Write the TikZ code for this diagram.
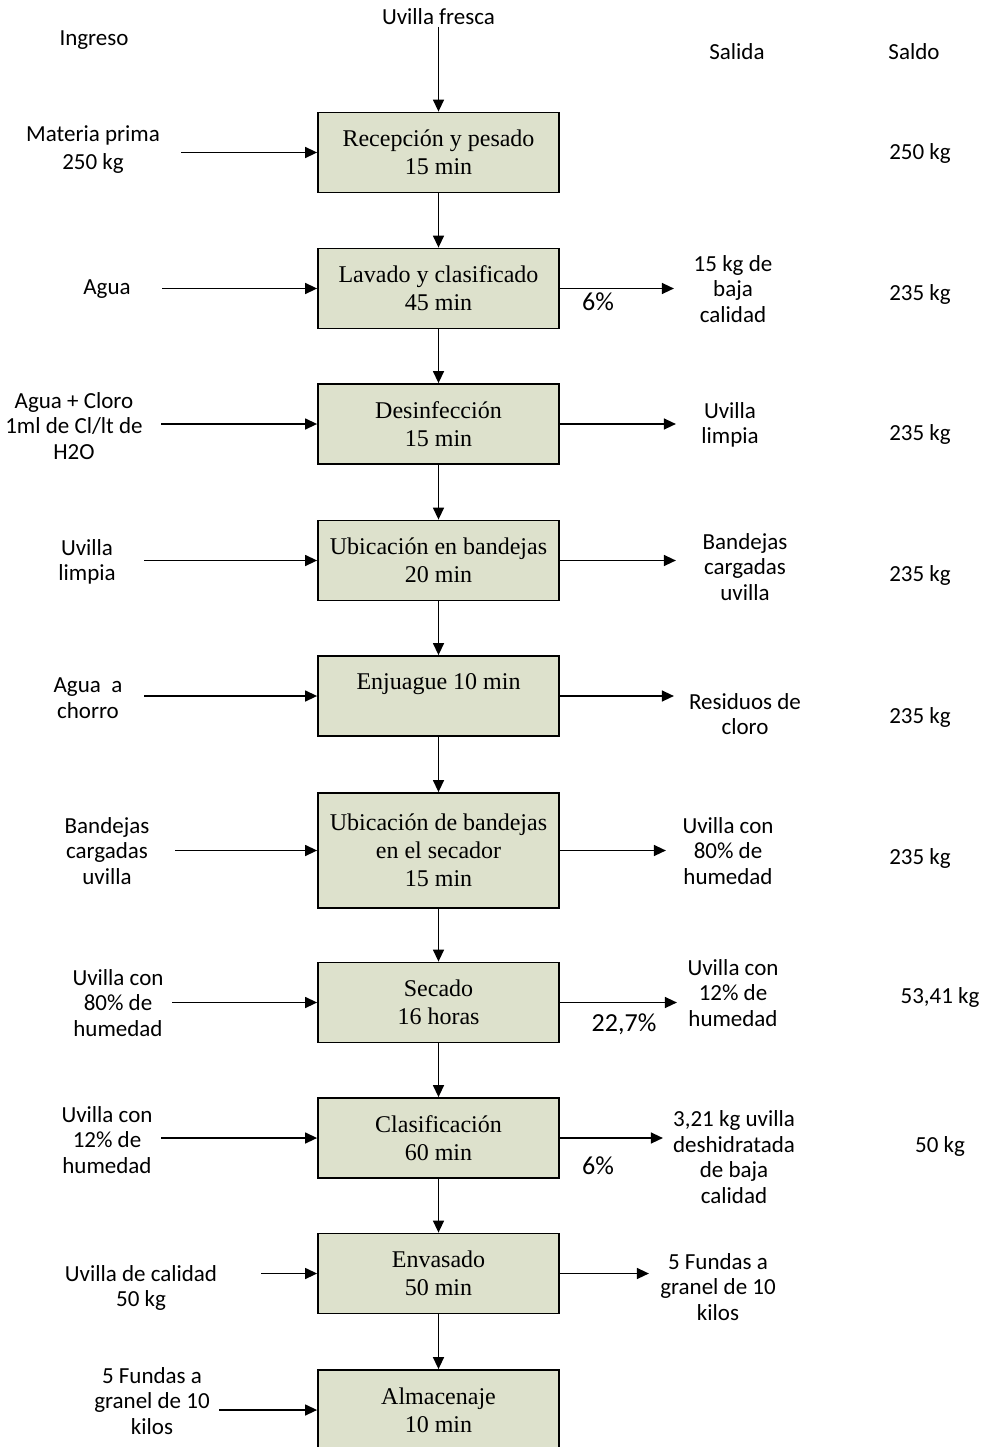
\documentclass[tikz,border=0pt]{standalone}
\usepackage{fontspec}
\setmainfont{Liberation Serif}
\newfontfamily\labfont{Carlito}
\usetikzlibrary{arrows.meta,calc}
\definecolor{boxfill}{HTML}{DDE1CC}
\begin{document}
\begin{tikzpicture}[x=1pt,y=-1pt,
  box/.style={draw=black, line width=1.8pt, fill=boxfill, minimum width=241pt,
    minimum height=80pt, inner sep=2pt, align=center,
    font=\fontsize{24}{28}\selectfont},
  lab/.style={font=\labfont\fontsize{23}{25.5}\selectfont, align=center, inner sep=0pt},
  pct/.style={font=\labfont\fontsize{26}{28}\selectfont, inner sep=0pt},
  arr/.style={line width=1.4pt, -{Triangle[length=12pt,width=11pt]}}]
\clip (0,0) rectangle (981,1447);
\fill[white] (0,0) rectangle (981,1447);

% boxes
\node[box] (b1) at (438.5,152.5) {Recepción y pesado\\15 min};
\node[box] (b2) at (438.5,288.5) {Lavado y clasificado\\45 min};
\node[box] (b3) at (438.5,424) {Desinfección\\15 min};
\node[box] (b4) at (438.5,560.5) {Ubicación en bandejas\\20 min};
\node[box] (b5) at (438.5,696) {Enjuague 10 min\\\mbox{}};
\node[box, minimum height=115pt] (b6) at (438.5,850.5) {Ubicación de bandejas\\en el secador\\15 min};
\node[box] (b7) at (438.5,1002.5) {Secado\\16 horas};
\node[box] (b8) at (438.5,1138) {Clasificación\\60 min};
\node[box] (b9) at (438.5,1273.5) {Envasado\\50 min};
\node[box] (b10) at (438.5,1410) {Almacenaje\\10 min};

% headers
\node[lab] (hIng) at (94,40) {Ingreso};
\node[lab] (hUf) at (438.5,17) {Uvilla fresca};
\node[lab] (hSal) at (737,52) {Salida};
\node[lab] (hSaldo) at (914,52) {Saldo};

% vertical flow
\coordinate (top) at (438.5,27);
\draw[arr] (top) -- (b1.north);
\foreach \a/\b in {b1/b2,b2/b3,b3/b4,b4/b5,b5/b6,b6/b7,b7/b8,b8/b9,b9/b10}
  \draw[arr] (\a.south) -- (\b.north);

% input arrows
\foreach \b/\d in {b1/136,b2/155,b3/156,b4/173,b5/173,b6/142,b7/145,b8/156,b9/56,b10/98}
  \draw[arr] ($(\b.west)+(-\d,0)$) coordinate (in\b) -- (\b.west);

% output arrows
\foreach \b/\d in {b2/114,b3/116,b4/116,b5/114,b6/106,b7/117,b8/103,b9/89}
  \draw[arr] (\b.east) -- ($(\b.east)+(\d,0)$) coordinate (out\b);

% input labels
\node[lab] (l1) at (93,150) {Materia prima\\[2.5pt]250 kg};
\node[lab] (l2) at (107,289) {Agua};
\node[lab] (l3) at (74,426) {Agua + Cloro\\1ml de Cl/lt de\\H2O};
\node[lab] (l4) at (87,562) {Uvilla\\limpia};
\node[lab] (l5) at (88,698) {Agua\ \ a\\chorro};
\node[lab] (l6) at (107,851) {Bandejas\\cargadas\\uvilla};
\node[lab] (l7) at (118,1003) {Uvilla con\\80\% de\\humedad};
\node[lab] (l8) at (107,1140) {Uvilla con\\12\% de\\humedad};
\node[lab] (l9) at (141,1288) {Uvilla de calidad\\50 kg};
\node[lab] (l10) at (152,1401) {5 Fundas a\\granel de 10\\kilos};

% output labels
\node[lab] (o2) at (733,289) {15 kg de\\baja\\calidad};
\node[lab] (o3) at (730,425) {Uvilla\\limpia};
\node[lab] (o4) at (745,567) {Bandejas\\cargadas\\uvilla};
\node[lab] (o5) at (745,714) {Residuos de\\cloro};
\node[lab] (o6) at (728,851) {Uvilla con\\80\% de\\humedad};
\node[lab] (o7) at (733,993) {Uvilla con\\12\% de\\humedad};
\node[lab] (o8) at (734,1157) {3,21 kg uvilla\\deshidratada\\de baja\\calidad};
\node[lab] (o9) at (718,1287) {5 Fundas a\\granel de 10\\kilos};

% percentages
\node[pct] (p2) at (598,302) {6\%};
\node[pct] (p7) at (624,1024) {22,7\%};
\node[pct] (p8) at (598,1166) {6\%};

% balance
\node[lab] (s1) at (920,153) {250 kg};
\node[lab] (s2) at (920,294) {235 kg};
\node[lab] (s3) at (920,434) {235 kg};
\node[lab] (s4) at (920,575) {235 kg};
\node[lab] (s5) at (920,717) {235 kg};
\node[lab] (s6) at (920,858) {235 kg};
\node[lab] (s7) at (940,997) {53,41 kg};
\node[lab] (s8) at (940,1146) {50 kg};
\end{tikzpicture}
\end{document}
